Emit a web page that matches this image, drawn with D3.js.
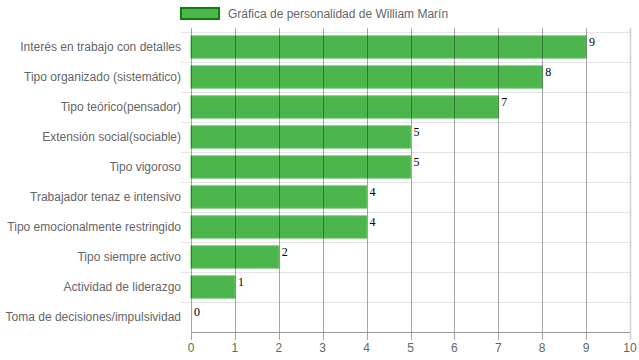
<!DOCTYPE html>
<html><head><meta charset="utf-8">
<script src="https://cdn.jsdelivr.net/npm/d3@7"></script>
<style>body{margin:0;background:#fff;}svg{display:block;}</style>
</head><body>
<svg id="c" width="639" height="360"></svg>
<script>
const categories = ["Interés en trabajo con detalles","Tipo organizado (sistemático)","Tipo teórico(pensador)","Extensión social(sociable)","Tipo vigoroso","Trabajador tenaz e intensivo","Tipo emocionalmente restringido","Tipo siempre activo","Actividad de liderazgo","Toma de decisiones/impulsividad"];
const values = [9,8,7,5,5,4,4,2,1,0];
const xTicks = [0,1,2,3,4,5,6,7,8,9,10];
const seriesName = "Gráfica de personalidad de William Marín";

(function(){
const svg = d3.select("#c");
const pL = 191, pR = 630, pT = 32, pB = 332;
const x = d3.scaleLinear().domain([0,10]).range([pL,pR]);
const y = d3.scaleBand().domain(categories).range([pT,pB]).paddingInner(0.26).paddingOuter(0.13);
const font = "Liberation Sans, Arial, sans-serif";

const bounds = d3.range(categories.length+1).map(i => pT + i*(pB-pT)/categories.length);
svg.append("g").selectAll("line").data(bounds.slice(0,-1)).join("line")
  .attr("x1", pL-10).attr("x2", pR).attr("y1", d=>d+0.5).attr("y2", d=>d+0.5)
  .attr("stroke","#e5e5e5");

svg.append("g").selectAll("rect").data(values).join("rect")
  .attr("x", x(0)).attr("y", (d,i)=>y(categories[i]))
  .attr("width", d=>x(d)-x(0)).attr("height", y.bandwidth())
  .attr("fill","#4cb64c").attr("stroke","#5cc05c").attr("stroke-width",1);

svg.append("g").selectAll("line").data(xTicks).join("line")
  .attr("x1", d=>Math.round(x(d))+0.5).attr("x2", d=>Math.round(x(d))+0.5)
  .attr("y1", pT-4).attr("y2", pB+8)
  .attr("stroke", d=> d===10 ? "#d0d0d0" : "rgba(0,0,0,0.35)")
  .attr("stroke-width", d=> d===10 ? 1.5 : 1);

svg.append("line").attr("x1", pL).attr("x2", pR).attr("y1", pB+0.5).attr("y2", pB+0.5).attr("stroke","#999");

svg.append("g").selectAll("text").data(xTicks).join("text")
  .attr("x", d=>x(d)).attr("y", 352).attr("text-anchor","middle")
  .attr("font-family", font).attr("font-size",12).attr("fill","#666").text(d=>d);

svg.append("g").selectAll("text").data(categories).join("text")
  .attr("x", 181).attr("y", d=>y(d)+y.bandwidth()/2+4).attr("text-anchor","end")
  .attr("font-family", font).attr("font-size",12).attr("fill","#666").text(d=>d);

svg.append("g").selectAll("text").data(values).join("text")
  .attr("x", d=>x(d)+3).attr("y", (d,i)=>y(categories[i])+10)
  .attr("font-family","Liberation Serif, Times New Roman, serif").attr("font-size",12).attr("fill","#000").text(d=>d);

svg.append("rect").attr("x",181).attr("y",8).attr("width",38).attr("height",11)
  .attr("fill","#4cb64c").attr("stroke","#0b7d0b").attr("stroke-width",2);
svg.append("text").attr("x",228).attr("y",18).attr("font-family",font).attr("font-size",12).attr("fill","#666").text(seriesName);
})();
</script>
</body></html>
